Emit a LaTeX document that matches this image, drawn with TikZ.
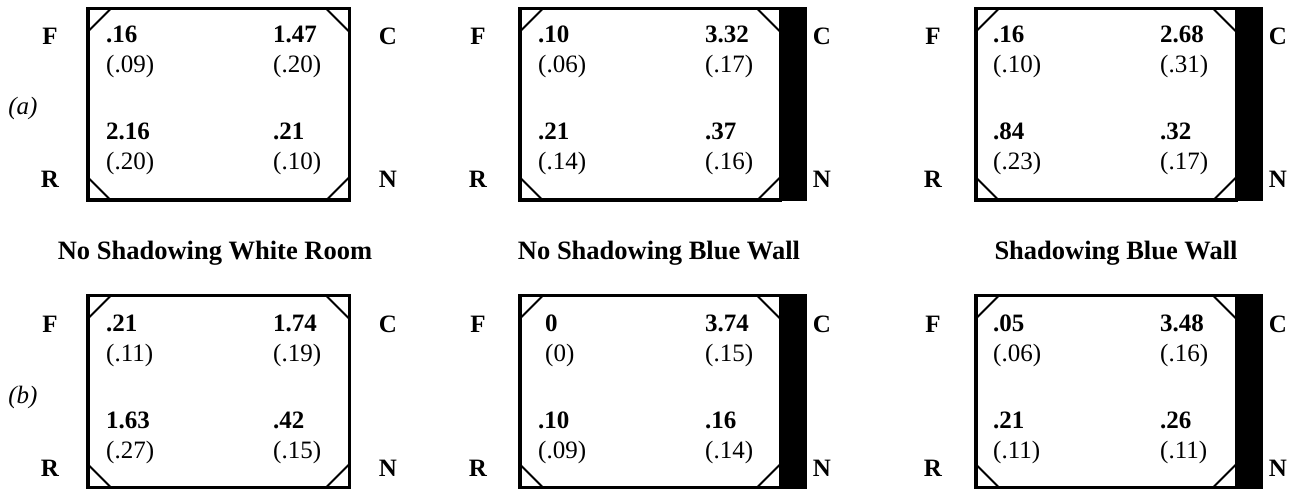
\documentclass[tikz,border=0pt]{standalone}
\usepackage{fontspec}
\setmainfont{Liberation Serif}
\tikzset{
  room/.style={draw, line width=3.5pt, inner sep=0pt, outer sep=0pt, anchor=north west},
  corner/.style={line width=2pt},
  wallbar/.style={fill=black, draw=none},
  val/.style={font=\fontsize{25}{30}\selectfont\bfseries, anchor=base west, inner sep=0pt},
  sd/.style={font=\fontsize{25}{30}\selectfont, anchor=base west, inner sep=0pt},
  dir/.style={font=\fontsize{25}{30}\selectfont\bfseries, anchor=base, inner sep=0pt},
  rowlab/.style={font=\fontsize{25}{30}\selectfont\itshape, anchor=base, inner sep=0pt},
  ttl/.style={font=\fontsize{26.5}{30}\selectfont\bfseries, anchor=base, inner sep=0pt},
}
% #1 name, #2 x (centre line, left), #3 y (centre line, top), #4 width
\newcommand\roomframe[4]{%
  \node[room, minimum width=#4pt, minimum height=191.5pt] (#1) at (#2,#3) {};
  \draw[corner] ([yshift=-23pt]#1.north west) -- ([xshift=23pt]#1.north west);
  \draw[corner] ([xshift=-23pt]#1.north east) -- ([yshift=-23pt]#1.north east);
  \draw[corner] ([yshift=23pt]#1.south west) -- ([xshift=23pt]#1.south west);
  \draw[corner] ([xshift=-23pt]#1.south east) -- ([yshift=23pt]#1.south east);
}
% #1 name, #2 x, #3 baseline y of bold value, #4 value, #5 sd
\newcommand\cellpair[5]{%
  \node[val] (#1v) at (#2,#3) {#4};
  \node[sd] (#1s) at (#2,#3+30) {#5};
}
\begin{document}
\begin{tikzpicture}[x=1pt, y=-1pt]
\useasboundingbox (0,0) rectangle (1294,489);

% ---------------- top row (a) ----------------
\node[rowlab] (la) at (23,115) {(a)};

\roomframe{a1}{87.75}{8.75}{261.5}
\node[dir] (a1F) at (50,45) {F};
\node[dir] (a1C) at (388,45) {C};
\node[dir] (a1R) at (50,188) {R};
\node[dir] (a1N) at (388,188) {N};
\cellpair{a1tl}{106}{43}{.16}{(.09)}
\cellpair{a1tr}{273}{43}{1.47}{(.20)}
\cellpair{a1bl}{106}{140}{2.16}{(.20)}
\cellpair{a1br}{273}{140}{.21}{(.10)}

\roomframe{a2}{519.75}{8.75}{260.5}
\fill[wallbar] (a2.north east) ++(0,-1.75) rectangle ++(27,194.5);
\node[dir] (a2F) at (478,45) {F};
\node[dir] (a2C) at (822,45) {C};
\node[dir] (a2R) at (478,188) {R};
\node[dir] (a2N) at (822,188) {N};
\cellpair{a2tl}{538}{43}{.10}{(.06)}
\cellpair{a2tr}{705}{43}{3.32}{(.17)}
\cellpair{a2bl}{538}{140}{.21}{(.14)}
\cellpair{a2br}{705}{140}{.37}{(.16)}

\roomframe{a3}{975.75}{8.75}{260.5}
\fill[wallbar] (a3.north east) ++(0,-1.75) rectangle ++(27,194.5);
\node[dir] (a3F) at (933,45) {F};
\node[dir] (a3C) at (1278,45) {C};
\node[dir] (a3R) at (933,188) {R};
\node[dir] (a3N) at (1278,188) {N};
\cellpair{a3tl}{993}{43}{.16}{(.10)}
\cellpair{a3tr}{1160}{43}{2.68}{(.31)}
\cellpair{a3bl}{993}{140}{.84}{(.23)}
\cellpair{a3br}{1160}{140}{.32}{(.17)}

% ---------------- titles ----------------
\node[ttl] (t1) at (215,260) {No Shadowing White Room};
\node[ttl] (t2) at (659,260) {No Shadowing Blue Wall};
\node[ttl] (t3) at (1116,260) {Shadowing Blue Wall};

% ---------------- bottom row (b) ----------------
\node[rowlab] (lb) at (23,403) {(b)};

\roomframe{b1}{87.75}{295.75}{261.5}
\node[dir] (b1F) at (50,333) {F};
\node[dir] (b1C) at (388,333) {C};
\node[dir] (b1R) at (50,476) {R};
\node[dir] (b1N) at (388,476) {N};
\cellpair{b1tl}{106}{331}{.21}{(.11)}
\cellpair{b1tr}{273}{331}{1.74}{(.19)}
\cellpair{b1bl}{106}{428}{1.63}{(.27)}
\cellpair{b1br}{273}{428}{.42}{(.15)}

\roomframe{b2}{519.75}{295.75}{260.5}
\fill[wallbar] (b2.north east) ++(0,-1.75) rectangle ++(27,194.5);
\node[dir] (b2F) at (478,333) {F};
\node[dir] (b2C) at (822,333) {C};
\node[dir] (b2R) at (478,476) {R};
\node[dir] (b2N) at (822,476) {N};
\cellpair{b2tl}{545}{331}{0}{(0)}
\cellpair{b2tr}{705}{331}{3.74}{(.15)}
\cellpair{b2bl}{538}{428}{.10}{(.09)}
\cellpair{b2br}{705}{428}{.16}{(.14)}

\roomframe{b3}{975.75}{295.75}{260.5}
\fill[wallbar] (b3.north east) ++(0,-1.75) rectangle ++(27,194.5);
\node[dir] (b3F) at (933,333) {F};
\node[dir] (b3C) at (1278,333) {C};
\node[dir] (b3R) at (933,476) {R};
\node[dir] (b3N) at (1278,476) {N};
\cellpair{b3tl}{993}{331}{.05}{(.06)}
\cellpair{b3tr}{1160}{331}{3.48}{(.16)}
\cellpair{b3bl}{993}{428}{.21}{(.11)}
\cellpair{b3br}{1160}{428}{.26}{(.11)}
\end{tikzpicture}
\end{document}
